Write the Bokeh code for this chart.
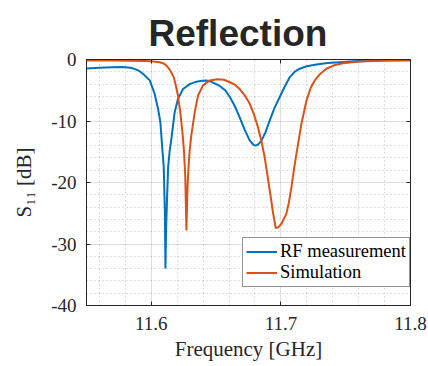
import math
from bokeh.plotting import figure
from bokeh.models import (Range1d, FixedTicker, LinearAxis, Legend, LegendItem)
from bokeh.embed import file_html
from bokeh.resources import INLINE

# ---------------- data ----------------
meas_freq = [11.550, 11.560, 11.570, 11.578, 11.584, 11.588, 11.591, 11.594, 11.5988,
             11.6026, 11.6052, 11.607, 11.6086, 11.6096, 11.6105, 11.6109, 11.6115,
             11.6121, 11.6130, 11.6142, 11.6155, 11.618, 11.6206, 11.6245, 11.6296,
             11.6348, 11.6390, 11.6425, 11.6460, 11.6528, 11.6570, 11.6606, 11.6645,
             11.6682, 11.6720, 11.6760, 11.6790, 11.6806, 11.6825, 11.6850, 11.6880,
             11.6914, 11.6950, 11.6991, 11.7030, 11.7068, 11.7105, 11.7145, 11.7200,
             11.7274, 11.7360, 11.7454, 11.7560, 11.7660, 11.7830, 11.8000]
meas_db = [-1.45, -1.35, -1.25, -1.22, -1.35, -1.6, -1.9, -2.4, -3.4,
           -5.6, -8.0, -10.2, -14.8, -17.5, -25.0, -34.0, -27.0,
           -23.0, -17.5, -14.8, -12.9, -8.6, -6.4, -4.8, -4.0,
           -3.6, -3.45, -3.4, -3.6, -4.3, -5.0, -6.1, -7.6,
           -9.4, -11.4, -13.2, -13.9, -14.0, -13.8, -13.2, -11.9,
           -9.9, -7.9, -6.1, -4.4, -2.9, -2.0, -1.5, -1.1,
           -0.8, -0.58, -0.43, -0.3, -0.2, -0.1, -0.05]

sim_freq = [11.550, 11.570, 11.585, 11.595, 11.600, 11.6065, 11.610, 11.6117, 11.6137,
            11.6155, 11.6175, 11.619, 11.6206, 11.6224, 11.624, 11.6252, 11.6262,
            11.6271, 11.6280, 11.6288, 11.6296, 11.6309, 11.6335, 11.636, 11.6399,
            11.645, 11.651, 11.656, 11.6606, 11.6645, 11.6682, 11.672, 11.676,
            11.679, 11.6823, 11.685, 11.6875, 11.6914, 11.694, 11.696, 11.698,
            11.7004, 11.7042, 11.7062, 11.7081, 11.710, 11.712, 11.7158, 11.7197,
            11.723, 11.7261, 11.730, 11.7351, 11.741, 11.7479, 11.757, 11.766,
            11.780, 11.800]
sim_db = [-0.15, -0.15, -0.2, -0.25, -0.3, -0.45, -0.7, -1.0, -1.5,
          -2.1, -3.0, -4.3, -5.9, -8.6, -11.8, -14.8, -19.0,
          -27.8, -20.5, -17.2, -14.8, -12.3, -8.6, -5.9, -4.2,
          -3.4, -3.2, -3.3, -3.7, -4.1, -4.8, -5.8, -7.2,
          -8.8, -11.0, -13.3, -15.9, -21.3, -25.0, -27.4, -27.3,
          -26.7, -25.1, -23.2, -20.8, -18.0, -15.3, -10.5, -6.7,
          -4.6, -3.4, -2.4, -1.5, -0.95, -0.6, -0.4, -0.27,
          -0.2, -0.16]

series_names = ["RF measurement", "Simulation"]
series_colors = ["#0072BD", "#D95319"]

x_ticks = [11.6, 11.7, 11.8]
x_tick_labels = ["11.6", "11.7", "11.8"]
x_minor = [11.56, 11.58, 11.62, 11.64, 11.66, 11.68, 11.72, 11.74, 11.76, 11.78]
y_ticks = [-40, -30, -20, -10, 0]
y_tick_labels = ["-40", "-30", "-20", "-10", "0"]
y_minor = [v for v in range(-38, 0, 2) if v % 10 != 0]

title_text = "Reflection"
x_label = "Frequency [GHz]"
y_label = "S\u2081\u2081 [dB]"

AX = "#262626"
SERIF = "Liberation Serif"

p = figure(width=428, height=366, x_range=Range1d(11.55, 11.8), y_range=Range1d(-40, 0),
           output_backend="svg", toolbar_location=None,
           min_border_left=86, min_border_right=18, min_border_bottom=61, min_border_top=59)
p.background_fill_color = "white"
p.border_fill_color = "white"
p.outline_line_color = AX
p.outline_line_width = 1

p.title.text = title_text
p.title.text_font = "Liberation Sans"
p.title.text_font_size = "37px"
p.title.text_font_style = "bold"
p.title.text_color = AX
p.title.align = "left"
p.title.offset = 62
p.title.standoff = 12

xt = FixedTicker(ticks=x_ticks, minor_ticks=x_minor)
yt = FixedTicker(ticks=y_ticks, minor_ticks=y_minor)

def style_axis(ax, labels=True):
    ax.axis_line_color = AX
    ax.axis_line_width = 1
    ax.major_tick_line_color = AX
    ax.major_tick_in = 4
    ax.major_tick_out = 0
    ax.minor_tick_line_color = None
    ax.major_label_text_font = SERIF
    ax.major_label_text_font_style = "normal"
    ax.major_label_text_line_height = 1.0
    ax.major_label_text_color = AX
    if labels:
        ax.major_label_text_font_size = "19px"
    else:
        ax.major_label_text_font_size = "0px"
        ax.major_label_standoff = 0

xa = p.xaxis[0]
xa.ticker = xt
xa.major_label_overrides = dict(zip(x_ticks, x_tick_labels))
style_axis(xa)
xa.major_label_standoff = 7
xa.axis_label = x_label
xa.axis_label_text_font = SERIF
xa.axis_label_text_font_size = "21px"
xa.axis_label_text_font_style = "normal"
xa.axis_label_text_color = AX
xa.axis_label_standoff = 4

ya = p.yaxis[0]
ya.ticker = yt
ya.major_label_overrides = dict(zip(y_ticks, y_tick_labels))
style_axis(ya)
ya.major_label_standoff = 6
ya.axis_label = y_label
ya.axis_label_text_font = SERIF
ya.axis_label_text_font_size = "21px"
ya.axis_label_text_font_style = "normal"
ya.axis_label_text_color = AX
ya.axis_label_standoff = 12

top = LinearAxis(ticker=FixedTicker(ticks=x_ticks))
style_axis(top, labels=False)
p.add_layout(top, "above")
right = LinearAxis(ticker=FixedTicker(ticks=y_ticks))
style_axis(right, labels=False)
p.add_layout(right, "right")

for g, t in ((p.xgrid[0], xt), (p.ygrid[0], yt)):
    g.ticker = t
    g.grid_line_color = AX
    g.grid_line_alpha = 0.15
    g.minor_grid_line_color = AX
    g.minor_grid_line_alpha = 0.3
    g.minor_grid_line_dash = "1 3"

r1 = p.line(meas_freq, meas_db, line_color=series_colors[0], line_width=2)
r2 = p.line(sim_freq, sim_db, line_color=series_colors[1], line_width=2)

leg = Legend(items=[LegendItem(label=series_names[0], renderers=[r1]),
                    LegendItem(label=series_names[1], renderers=[r2])],
             location=(156, 18))
leg.label_text_font = SERIF
leg.label_text_font_size = "18.5px"
leg.label_text_color = "black"
leg.glyph_width = 31
leg.glyph_height = 15
leg.label_height = 15
leg.label_standoff = 3
leg.padding = 3
leg.spacing = 0
leg.margin = 0
leg.border_line_color = AX
leg.border_line_width = 1
leg.background_fill_alpha = 1
p.add_layout(leg, "center")

open("out.html", "w").write(file_html(p, INLINE))
